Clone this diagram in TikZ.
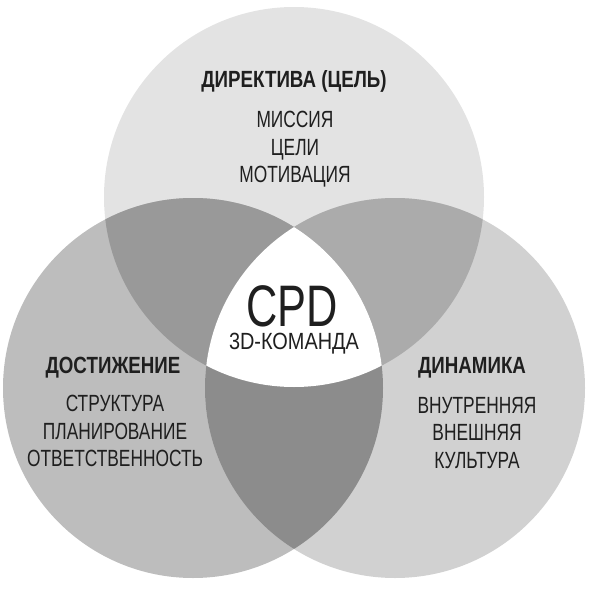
\documentclass[tikz,border=0pt]{standalone}
\usepackage{fontspec}
\setmainfont[FakeStretch=0.74,BoldFeatures={FakeStretch=0.8}]{Liberation Sans}
\usetikzlibrary{positioning}
\definecolor{topgray}{gray}{0.89}
\definecolor{leftgray}{gray}{0.74}
\definecolor{rightgray}{gray}{0.82}
\definecolor{topleftgray}{gray}{0.60}
\definecolor{toprightgray}{gray}{0.67}
\definecolor{leftrightgray}{gray}{0.55}
\definecolor{ink}{gray}{0.12}

\begin{document}
\begin{tikzpicture}[x=0.03cm, y=-0.03cm,
    head/.style={font=\bfseries\fontsize{20}{24}\selectfont, text=ink,
                 inner sep=0pt, anchor=base},
    items/.style={align=center, font=\fontsize{20}{23.5}\selectfont, text=ink,
                  inner sep=0pt, anchor=north}]
    \useasboundingbox (0,0) rectangle (591,592);

    % Centres
    \coordinate (ctop) at (294,197);
    \coordinate (cleft) at (193,388);
    \coordinate (cright) at (395,388);
    \def\rad{190}

    % Circles
    \fill[topgray] (ctop) circle (\rad);
    \fill[leftgray] (cleft) circle (\rad);
    \fill[rightgray] (cright) circle (\rad);

    % Overlaps
    \begin{scope}
        \clip (ctop) circle (\rad);
        \fill[topleftgray] (cleft) circle (\rad);
        \fill[toprightgray] (cright) circle (\rad);
    \end{scope}
    \begin{scope}
        \clip (cleft) circle (\rad);
        \fill[leftrightgray] (cright) circle (\rad);
    \end{scope}
    \begin{scope}
        \clip (ctop) circle (\rad);
        \clip (cleft) circle (\rad);
        \fill[white] (cright) circle (\rad);
    \end{scope}

    % Labels
    \node[head] (dirhead) at (294,88) {ДИРЕКТИВА (ЦЕЛЬ)};
    \node[items] (diritems) at (295,111) {МИССИЯ\\ЦЕЛИ\\МОТИВАЦИЯ};
    \node[head] (achhead) at (113,373) {ДОСТИЖЕНИЕ};
    \node[items] (achitems) at (115,395) {СТРУКТУРА\\ПЛАНИРОВАНИЕ\\ОТВЕТСТВЕННОСТЬ};
    \node[head] (dynhead) at (472,373) {ДИНАМИКА};
    \node[items] (dynitems) at (477,397) {ВНУТРЕННЯЯ\\ВНЕШНЯЯ\\КУЛЬТУРА};

    % Centre
    \node[font=\fontsize{50}{50}\selectfont, text=ink, inner sep=0pt,
          anchor=base] (cpd) at (292,326) {CPD};
    \node[font=\fontsize{20}{24}\selectfont\addfontfeatures{FakeStretch=0.85},
          text=ink, inner sep=0pt, anchor=base] (team) at (294,349) {3D-КОМАНДА};
\end{tikzpicture}
\end{document}
